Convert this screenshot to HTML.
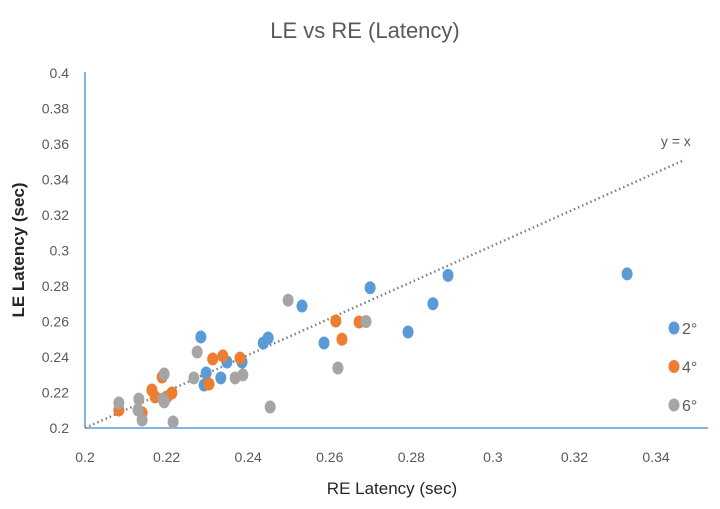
<!DOCTYPE html>
<html><head><meta charset="utf-8"><style>
body{margin:0;background:#fff;width:720px;height:504px;overflow:hidden}
svg text{font-family:"Liberation Sans",sans-serif;fill:#595959}
</style></head><body>
<svg id="chart" width="720" height="504" xmlns="http://www.w3.org/2000/svg">
<text x="365" y="38" font-size="22" text-anchor="middle">LE vs RE (Latency)</text>
<text x="392" y="494" font-size="17" text-anchor="middle" style="fill:#262626">RE Latency (sec)</text>
<text transform="translate(24,250) rotate(-90)" font-size="17" text-anchor="middle" style="fill:#262626;font-weight:bold">LE Latency (sec)</text>
<g id="ticks"></g>
<line x1="85" y1="72" x2="85" y2="428" stroke="#5b9bd5" stroke-width="1.5"/>
<line x1="85" y1="428" x2="708" y2="428" stroke="#5b9bd5" stroke-width="1.5"/>
<g id="marks"></g>
<g id="legend"></g>
</svg>
<script>
const xTicks=[0.2,0.22,0.24,0.26,0.28,0.3,0.32,0.34];
const yTicks=[0.2,0.22,0.24,0.26,0.28,0.3,0.32,0.34,0.36,0.38,0.4];
const seriesNames=["2°","4°","6°"];
const seriesColors=["#5b9bd5","#ed7d31","#a5a5a5"];
const s2x=[0.2498,0.2532,0.2699,0.289,0.3329,0.2853,0.2586,0.2792,0.2284,0.2449,0.2437,0.2348,0.2385,0.2297,0.2333,0.2292].slice(1);
const s2y=[0.272,0.2687,0.279,0.286,0.2868,0.270,0.2479,0.2541,0.2513,0.2507,0.2479,0.2372,0.2372,0.231,0.2282,0.2242].slice(1);
const s4x=[0.2615,0.2672,0.263,0.2313,0.2338,0.238,0.2189,0.2304,0.2164,0.2172,0.2213,0.2201,0.2083,0.214];
const s4y=[0.2603,0.2597,0.250,0.2389,0.2406,0.2394,0.2287,0.2248,0.2214,0.2175,0.2197,0.2175,0.2101,0.2085];
const s6x=[0.2498,0.2689,0.262,0.2275,0.2194,0.2267,0.2368,0.2387,0.2191,0.2194,0.2083,0.2132,0.213,0.214,0.2216,0.2454];
const s6y=[0.272,0.260,0.2338,0.2428,0.2304,0.2282,0.2282,0.2299,0.2163,0.2147,0.2141,0.2163,0.2101,0.2045,0.2034,0.2118];
const NS="http://www.w3.org/2000/svg";
const X=v=>85+(v-0.2)*4079;
const Y=v=>428-(v-0.2)*1775;
const tg=document.getElementById('ticks');
xTicks.forEach(t=>{const e=document.createElementNS(NS,'text');


e.setAttribute('x',X(t));e.setAttribute('y',462);e.setAttribute('font-size','14');e.setAttribute('text-anchor','middle');e.textContent=String(t);tg.appendChild(e);});
yTicks.forEach(t=>{const e=document.createElementNS(NS,'text');


e.setAttribute('x',69);e.setAttribute('y',Y(t)+5);e.setAttribute('font-size','14');e.setAttribute('text-anchor','end');e.textContent=String(t);tg.appendChild(e);});
const mg=document.getElementById('marks');
const ln=document.createElementNS(NS,'line');


ln.setAttribute('x1',X(0.2));ln.setAttribute('y1',Y(0.2));ln.setAttribute('x2',X(0.35)-12);ln.setAttribute('y2',Y(0.35)-2);
ln.setAttribute('stroke','#7f7f7f');ln.setAttribute('stroke-width','2.5');ln.setAttribute('stroke-dasharray','1.5 3');mg.appendChild(ln);
const lt=document.createElementNS(NS,'text');


lt.setAttribute('x',X(0.35)-36);lt.setAttribute('y',Y(0.35)-16);lt.setAttribute('font-size','14');lt.textContent='y = x';mg.appendChild(lt);
[[s2x,s2y],[s4x,s4y],[s6x,s6y]].forEach((s,i)=>{s[0].forEach((xv,j)=>{
const c=document.createElementNS(NS,'ellipse');


c.setAttribute('cx',X(xv));c.setAttribute('cy',Y(s[1][j]));c.setAttribute('rx',5.5);c.setAttribute('ry',6.5);c.setAttribute('fill',seriesColors[i]);mg.appendChild(c);});});
const lg=document.getElementById('legend');
seriesNames.forEach((n,i)=>{const y=328+i*38.5;
const c=document.createElementNS(NS,'ellipse');


c.setAttribute('cx',674);c.setAttribute('cy',y);c.setAttribute('rx',5.5);c.setAttribute('ry',6.5);c.setAttribute('fill',seriesColors[i]);lg.appendChild(c);
const t=document.createElementNS(NS,'text');


t.setAttribute('x',682);t.setAttribute('y',y+6);t.setAttribute('font-size','16');t.textContent=n;lg.appendChild(t);});
</script>
</body></html>
